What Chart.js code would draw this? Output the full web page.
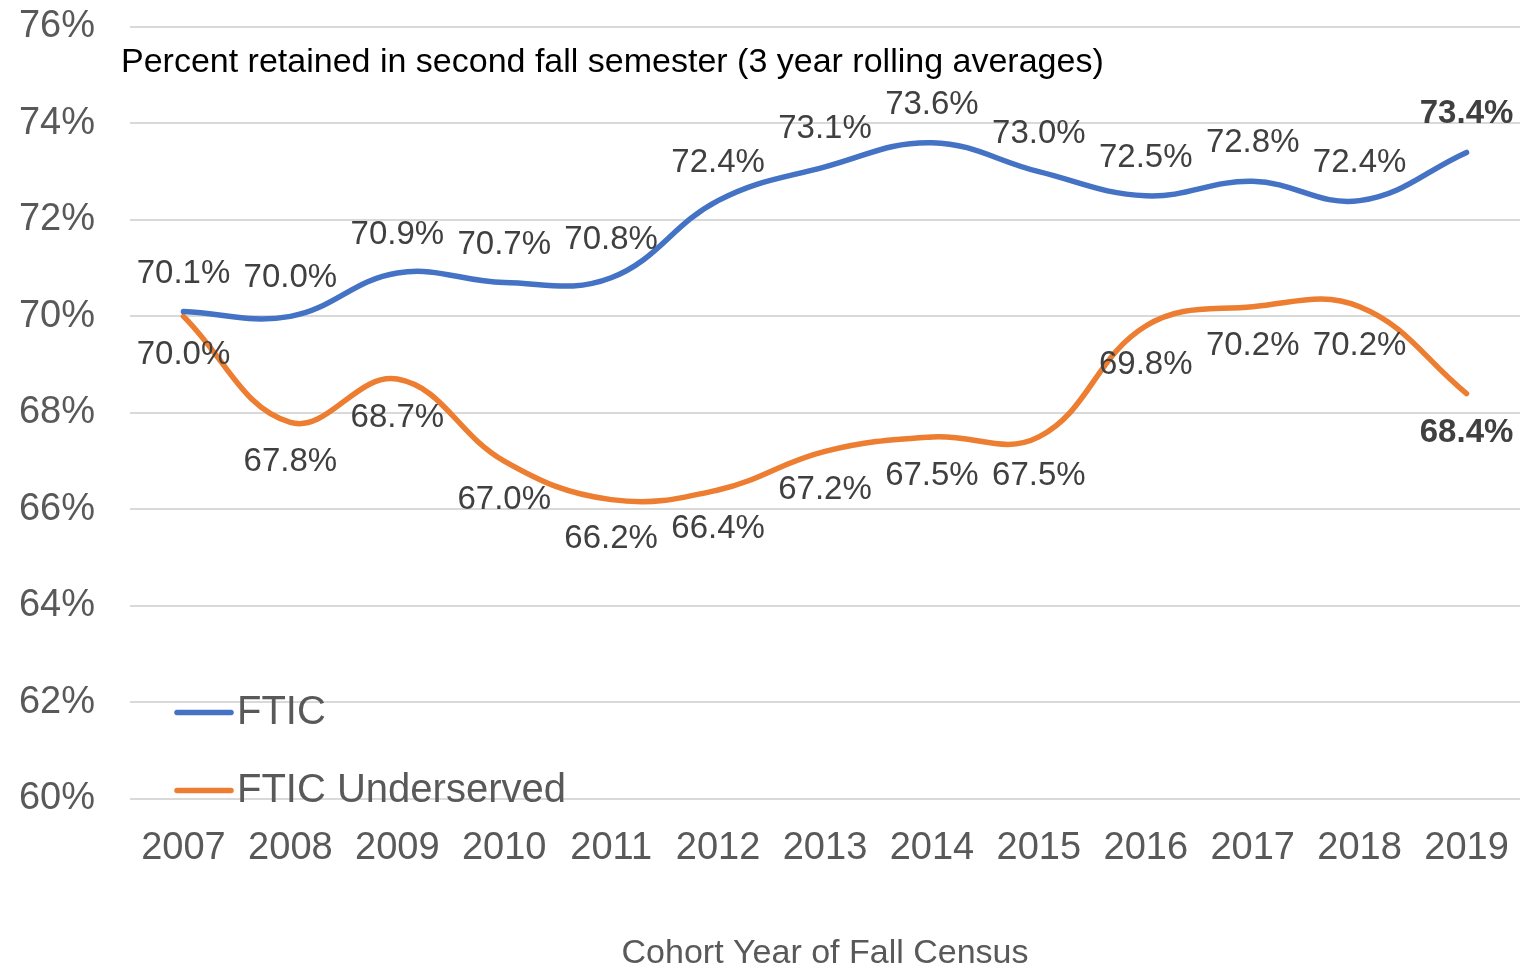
<!DOCTYPE html>
<html>
<head>
<meta charset="utf-8">
<script src="https://cdn.jsdelivr.net/npm/chart.js@4.4.0/dist/chart.umd.min.js"></script>
<style>
  html, body { margin: 0; padding: 0; background: #fff; }
  #wrap { width: 1524px; height: 964px; }
</style>
</head>
<body>
<div id="wrap"><canvas id="retentionChart"></canvas></div>
<script>
// chart data
const years = ['2007', '2008', '2009', '2010', '2011', '2012', '2013', '2014', '2015', '2016', '2017', '2018', '2019'];
const fticValues = [70.1, 70.0, 70.9, 70.7, 70.8, 72.4, 73.1, 73.6, 73.0, 72.5, 72.8, 72.4, 73.4];
const underservedValues = [70.0, 67.8, 68.7, 67.0, 66.2, 66.4, 67.2, 67.5, 67.5, 69.8, 70.2, 70.2, 68.4];
const seriesNames = ['FTIC', 'FTIC Underserved'];
const chartTitle = 'Percent retained in second fall semester (3 year rolling averages)';
const xAxisTitle = 'Cohort Year of Fall Census';

const BLUE = '#4472C4';
const ORANGE = '#ED7D31';
const FONT = "'Liberation Sans', Arial, sans-serif";

// draws data labels, the inner title and the inner legend
const overlayPlugin = {
    id: 'overlay',
    afterDatasetsDraw(chart) {
        const ctx = chart.ctx;
        const area = chart.chartArea;
        ctx.save();
        ctx.textAlign = 'center';
        ctx.textBaseline = 'middle';
        chart.data.datasets.forEach((ds, i) => {
            const meta = chart.getDatasetMeta(i);
            const offset = i === 0 ? -38 : 39;
            meta.data.forEach((pt, j) => {
                const last = j === ds.data.length - 1;
                ctx.font = (last ? 'bold ' : '') + '33px ' + FONT;
                ctx.fillStyle = '#404040';
                ctx.fillText(ds.data[j].toFixed(1) + '%', pt.x, pt.y + offset);
            });
        });

        // title inside plot
        ctx.textAlign = 'left';
        ctx.fillStyle = '#000000';
        ctx.font = '34px ' + FONT;
        ctx.fillText(chartTitle, area.left - 9, area.top + 36);

        // legend
        const colors = [BLUE, ORANGE];
        const ys = [area.bottom - 86, area.bottom - 8];
        ctx.font = '40px ' + FONT;
        ctx.fillStyle = '#595959';
        ctx.lineCap = 'round';
        seriesNames.forEach((name, i) => {
            ctx.strokeStyle = colors[i];
            ctx.lineWidth = 5.5;
            ctx.beginPath();
            ctx.moveTo(area.left + 47, ys[i]);
            ctx.lineTo(area.left + 101, ys[i]);
            ctx.stroke();
            ctx.fillText(name, area.left + 107, ys[i]);
        });
        ctx.restore();
    }
};

new Chart(document.getElementById('retentionChart').getContext('2d'), {
    type: 'line',
    data: {
        labels: years,
        datasets: [{
            label: seriesNames[0],
            data: fticValues,
            borderColor: BLUE,
            borderWidth: 5.5,
            tension: 0.4,
            pointRadius: 0,
            borderCapStyle: 'round',
            fill: false
        }, {
            label: seriesNames[1],
            data: underservedValues,
            borderColor: ORANGE,
            borderWidth: 5.5,
            tension: 0.4,
            pointRadius: 0,
            borderCapStyle: 'round',
            fill: false
        }]
    },
    options: {
        responsive: true,
        maintainAspectRatio: false,
        animation: false,
        layout: { padding: { top: 27, right: 4, left: 0, bottom: -10 } },
        plugins: {
            legend: { display: false },
            tooltip: { enabled: false }
        },
        scales: {
            x: {
                offset: true,
                grid: { display: false },
                border: { display: false },
                afterFit: scale => { scale.paddingLeft = 0; scale.paddingRight = 0; },
                ticks: {
                    color: '#595959',
                    font: { family: FONT, size: 38 },
                    padding: 19,
                    maxRotation: 0
                },
                title: {
                    display: true,
                    text: xAxisTitle,
                    color: '#595959',
                    font: { family: FONT, size: 34 },
                    padding: { top: 43, bottom: 0 }
                }
            },
            y: {
                min: 60,
                max: 76,
                grid: { color: '#D9D9D9', lineWidth: 2, drawTicks: false },
                border: { display: false },
                afterFit: scale => {
                    scale.width = 130;
                    scale.paddingTop = 0;
                    scale.paddingBottom = 0;
                },
                ticks: {
                    stepSize: 2,
                    color: '#595959',
                    font: { family: FONT, size: 38 },
                    padding: 35,
                    callback: v => v + '%'
                }
            }
        }
    },
    plugins: [overlayPlugin]
});
</script>
</body>
</html>
